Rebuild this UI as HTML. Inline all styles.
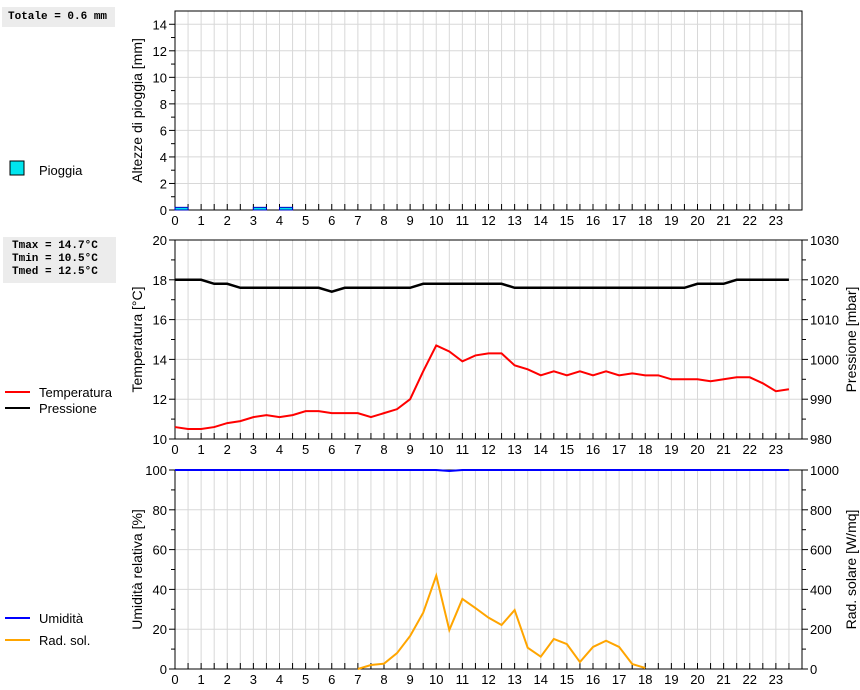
<!DOCTYPE html>
<html><head><meta charset="utf-8"><style>
body{margin:0;background:#fff;width:860px;height:690px;overflow:hidden;font-family:"Liberation Sans",sans-serif}
.box{position:absolute;background:#ececec;font-family:"Liberation Mono",monospace;font-weight:bold;font-size:11px;line-height:13px;padding:0 6px;}
</style></head><body>
<div class="box" style="left:2px;top:7px;width:101px;height:20px;line-height:20px">Totale = 0.6 mm</div>
<div class="box" style="left:3px;top:237px;width:95px;height:44px;padding-top:3px;padding-left:9px;box-sizing:content-box;width:98px;height:43px">Tmax = 14.7°C<br>Tmin = 10.5°C<br>Tmed = 12.5°C</div>
<svg id="c" width="860" height="690" style="position:absolute;left:0;top:0" xmlns="http://www.w3.org/2000/svg"></svg>
<script>
const hours=[0,0.5,1,1.5,2,2.5,3,3.5,4,4.5,5,5.5,6,6.5,7,7.5,8,8.5,9,9.5,10,10.5,11,11.5,12,12.5,13,13.5,14,14.5,15,15.5,16,16.5,17,17.5,18,18.5,19,19.5,20,20.5,21,21.5,22,22.5,23,23.5];
const temp=[10.6,10.5,10.5,10.6,10.8,10.9,11.1,11.2,11.1,11.2,11.4,11.4,11.3,11.3,11.3,11.1,11.3,11.5,12.0,13.4,14.7,14.4,13.9,14.2,14.3,14.3,13.7,13.5,13.2,13.4,13.2,13.4,13.2,13.4,13.2,13.3,13.2,13.2,13.0,13.0,13.0,12.9,13.0,13.1,13.1,12.8,12.4,12.5];
const press=[1020,1020,1020,1019,1019,1018,1018,1018,1018,1018,1018,1018,1017,1018,1018,1018,1018,1018,1018,1019,1019,1019,1019,1019,1019,1019,1018,1018,1018,1018,1018,1018,1018,1018,1018,1018,1018,1018,1018,1018,1019,1019,1019,1020,1020,1020,1020,1020];
const hum=[100,100,100,100,100,100,100,100,100,100,100,100,100,100,100,100,100,100,100,100,100,99.5,100,100,100,100,100,100,100,100,100,100,100,100,100,100,100,100,100,100,100,100,100,100,100,100,100,100];
const radHours=[7,7.5,8,8.5,9,9.5,10,10.5,11,11.5,12,12.5,13,13.5,14,14.5,15,15.5,16,16.5,17,17.5,18];
const rad=[0,20,27,80,166,283,469,196,352,306,258,221,296,107,62,151,125,35,111,142,111,25,5];
const rainStart=[0,3,4];
const rainVal=[0.2,0.2,0.2];
const xTicks=[0,1,2,3,4,5,6,7,8,9,10,11,12,13,14,15,16,17,18,19,20,21,22,23];

const svg=document.getElementById('c');const NS='http://www.w3.org/2000/svg';
function mk(t,a,p){const e=document.createElementNS(NS,t);for(const k in a)e.setAttribute(k,a[k]);(p||svg).appendChild(e);return e;}
const X0=175,X1=802;const x=h=>X0+h/24*(X1-X0);
function panel(top,bot,ymin,ymax,step,minor,name,title,gmax){
  const y=v=>bot-(v-ymin)/(ymax-ymin)*(bot-top);
  const g=mk('g',{});
  for(let h=0.5;h<24;h+=0.5){mk('line',{x1:x(h),x2:x(h),y1:top,y2:bot,stroke:'#d8d8d8','stroke-width':1},g);}
  for(let v=ymin;v<=gmax+1e-9;v+=step){mk('line',{x1:X0,x2:X1,y1:y(v),y2:y(v),stroke:'#d8d8d8'},g);
    mk('line',{x1:X0-6,x2:X0,y1:y(v),y2:y(v),stroke:'#000'},g);
    const t=mk('text',{x:X0-8,y:y(v)+5,'text-anchor':'end','font-size':13},g);t.textContent=v;}
  for(let v=ymin+minor;v<ymax;v+=step){mk('line',{x1:X0-4,x2:X0,y1:y(v),y2:y(v),stroke:'#000'},g);}
  for(let h=0;h<24;h+=0.5){mk('line',{x1:x(h),x2:x(h),y1:bot-6,y2:bot,stroke:'#000'},g);}
  xTicks.forEach(h=>{const t=mk('text',{x:x(h),y:bot+15,'text-anchor':'middle','font-size':13},g);t.textContent=h;});
  const tt=mk('text',{transform:`translate(142,${(top+bot)/2}) rotate(-90)`,'text-anchor':'middle','font-size':14},g);
  tt.textContent=title;
  return {y,g,top,bot};
}
function frame(p){mk('rect',{x:X0,y:p.top,width:X1-X0,height:p.bot-p.top,fill:'none',stroke:'#000'},p.g);}
function right(p,rmin,rmax,step,minor,title){
  const y=v=>p.bot-(v-rmin)/(rmax-rmin)*(p.bot-p.top);
  for(let v=rmin;v<=rmax;v+=step){mk('line',{x1:X1,x2:X1+6,y1:y(v),y2:y(v),stroke:'#000'},p.g);
    const t=mk('text',{x:X1+8,y:y(v)+5,'font-size':13},p.g);t.textContent=v;}
  for(let v=rmin+minor;v<rmax;v+=step){mk('line',{x1:X1,x2:X1+4,y1:y(v),y2:y(v),stroke:'#000'},p.g);}
  const tt=mk('text',{transform:`translate(856,${(p.top+p.bot)/2}) rotate(-90)`,'text-anchor':'middle','font-size':14},p.g);
  tt.textContent=title;
  return y;
}
function line(xs,vals,yf,col,name,w){const pts=xs.map((h,i)=>x(h)+','+yf(vals[i])).join(' ');
  const l=mk('polyline',{points:pts,fill:'none',stroke:col,'stroke-width':w||2});
  }
// panel 1
const p1=panel(11,210,0,15,2,1,'rain','Altezze di pioggia [mm]',14);
rainStart.forEach((h,i)=>{const r=mk('rect',{x:x(h),y:p1.y(rainVal[i]),width:x(h+0.5)-x(h),height:p1.y(0)-p1.y(rainVal[i]),fill:'#00e5ee',stroke:'#0000c0','stroke-width':1});
  });
frame(p1);
// panel 2
const p2=panel(240,439,10,20,2,1,'temp','Temperatura [°C]',20);
const yp=right(p2,980,1030,10,5,'Pressione [mbar]');
line(hours,press,yp,'#000','pressure-line',2.5);
line(hours,temp,p2.y,'#f00','temperature-line',2);
frame(p2);
// panel 3
const p3=panel(470,669,0,100,20,10,'hum','Umidità relativa [%]',100);
const yr=right(p3,0,1000,200,100,'Rad. solare [W/mq]');
line(radHours,rad,yr,'#ffa500','radiation-line',2);
line(hours,hum,p3.y,'#00f','humidity-line',2);
frame(p3);
// legends
function leg(y,col,label,name){const g=mk('g',{});
  mk('line',{x1:5,x2:30,y1:y,y2:y,stroke:col,'stroke-width':2},g);const t=mk('text',{x:39,y:y+5,'font-size':13},g);t.textContent=label;}
const lg=mk('g',{});
mk('rect',{x:10,y:161,width:14,height:14,fill:'#00e5ee',stroke:'#000'},lg);
const lt=mk('text',{x:39,y:175,'font-size':13},lg);lt.textContent='Pioggia';
leg(392,'#f00','Temperatura','legend-temperature');
leg(408,'#000','Pressione','legend-pressure');
leg(618,'#00f','Umidità','legend-humidity');
leg(640,'#ffa500','Rad. sol.','legend-radiation');
</script>
</body></html>
